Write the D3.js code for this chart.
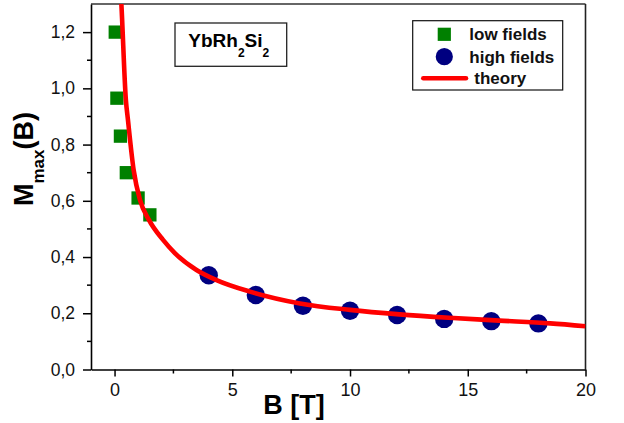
<!DOCTYPE html>
<html>
<head>
<meta charset="utf-8">
<script src="https://cdn.jsdelivr.net/npm/d3@7/dist/d3.min.js"></script>
<style>
  html, body { margin: 0; padding: 0; background: #fff; }
  svg { display: block; font-family: "Liberation Sans", Arial, sans-serif; }
</style>
</head>
<body>
<svg id="chart" width="624" height="423"></svg>
<script>
// Maximum magnetisation vs field, YbRh2Si2
const lowFieldB = [0.03, 0.1, 0.25, 0.5, 1.0, 1.5];
const lowFieldM = [1.20, 0.965, 0.83, 0.70, 0.61, 0.55];

const highFieldB = [4, 6, 8, 10, 12, 14, 16, 18];
const highFieldM = [0.335, 0.265, 0.227, 0.209, 0.194, 0.180, 0.172, 0.164];

const theoryB = [0.25, 0.29, 0.48, 0.57, 0.81, 1.08, 1.46, 2.06, 2.56, 3.48, 4.33, 5.75, 7.87, 10.0, 12.1, 14.2, 16.35, 18.5, 20.0];
const theoryM = [1.36, 1.30, 0.96, 0.887, 0.71, 0.603, 0.532, 0.461, 0.414, 0.354, 0.318, 0.277, 0.235, 0.212, 0.196, 0.184, 0.174, 0.164, 0.154];

const xTicks = [0, 5, 10, 15, 20];
const xMinorTicks = [2.5, 7.5, 12.5, 17.5];
const yTicks = [0.0, 0.2, 0.4, 0.6, 0.8, 1.0, 1.2];
const yMinorTicks = [0.1, 0.3, 0.5, 0.7, 0.9, 1.1];

const legendItems = ["low fields", "high fields", "theory"];

const svg = d3.select("#chart");
const plotLeft = 91, plotRight = 585.5, plotTop = 4, plotBottom = 369.5;

const x = d3.scaleLinear().domain([-1, 20]).range([plotLeft, plotRight]);
const y = d3.scaleLinear().domain([0, 1.3]).range([plotBottom, plotTop]);

const fmt = d => d3.format(".1f")(d).replace(".", ",");

// clip region for marks
svg.append("defs").append("clipPath").attr("id", "plotClip")
  .append("rect").attr("x", plotLeft).attr("y", plotTop)
  .attr("width", plotRight - plotLeft).attr("height", plotBottom - plotTop);

// frame: top and right lines
svg.append("line").attr("x1", plotLeft).attr("x2", plotRight).attr("y1", plotTop).attr("y2", plotTop)
  .attr("stroke", "#333").attr("stroke-width", 1.6);
svg.append("line").attr("x1", plotRight).attr("x2", plotRight).attr("y1", plotTop).attr("y2", plotBottom)
  .attr("stroke", "#222").attr("stroke-width", 1.6);

// bottom axis
const xAxis = svg.append("g").attr("transform", `translate(0,${plotBottom})`)
  .call(d3.axisBottom(x).tickValues(xTicks).tickSize(7).tickPadding(7).tickSizeOuter(0).tickFormat(d3.format("d")));
xAxis.append("g").selectAll("line").data(xMinorTicks).join("line")
  .attr("x1", d => x(d)).attr("x2", d => x(d)).attr("y1", 0).attr("y2", 4)
  .attr("stroke", "#000").attr("stroke-width", 1.5);

// left axis
const yAxis = svg.append("g").attr("transform", `translate(${plotLeft},0)`)
  .call(d3.axisLeft(y).tickValues(yTicks).tickSize(8).tickPadding(8).tickSizeOuter(0).tickFormat(fmt));
yAxis.append("g").selectAll("line").data(yMinorTicks).join("line")
  .attr("y1", d => y(d)).attr("y2", d => y(d)).attr("x1", 0).attr("x2", -4)
  .attr("stroke", "#000").attr("stroke-width", 1.5);

[xAxis, yAxis].forEach(g => {
  g.select(".domain").attr("stroke", "#000").attr("stroke-width", 1.6);
  g.selectAll(".tick line").attr("stroke", "#000").attr("stroke-width", 1.5);
  g.selectAll(".tick text").attr("fill", "#111")
    .style("font-family", "'Liberation Sans', Arial, sans-serif");
});
xAxis.selectAll(".tick text").style("font-size", "18px");
yAxis.selectAll(".tick text").style("font-size", "17.5px");

// axis titles
svg.append("text").attr("x", 294).attr("y", 414).attr("text-anchor", "middle")
  .attr("font-weight", "bold").attr("font-size", 27).attr("fill", "#000").text("B [T]");

const yl = svg.append("text").attr("transform", "translate(33,159) rotate(-90)")
  .attr("text-anchor", "middle").attr("font-weight", "bold").attr("fill", "#000");
yl.append("tspan").attr("font-size", 27).text("M");
yl.append("tspan").attr("font-size", 17).attr("dy", 11).text("max");
yl.append("tspan").attr("font-size", 27).attr("dy", -11).text("(B)");

// data marks
const marks = svg.append("g").attr("clip-path", "url(#plotClip)");
const sq = 13.3;
marks.append("g").selectAll("rect").data(lowFieldB.map((b, i) => [b, lowFieldM[i]])).join("rect")
  .attr("x", d => x(d[0]) - sq / 2).attr("y", d => y(d[1]) - sq / 2)
  .attr("width", sq).attr("height", sq).attr("fill", "#008000");

marks.append("g").selectAll("circle").data(highFieldB.map((b, i) => [b, highFieldM[i]])).join("circle")
  .attr("cx", d => x(d[0])).attr("cy", d => y(d[1])).attr("r", 9.2).attr("fill", "#000080");

const line = d3.line().x(d => x(d[0])).y(d => y(d[1])).curve(d3.curveMonotoneX);
marks.append("path").datum(theoryB.map((b, i) => [b, theoryM[i]]))
  .attr("d", line).attr("fill", "none").attr("stroke", "#ff0000").attr("stroke-width", 4.6);

// compound label box
svg.append("rect").attr("x", 175).attr("y", 23).attr("width", 111.7).attr("height", 43.3)
  .attr("fill", "#fff").attr("stroke", "#222").attr("stroke-width", 1.3);
const comp = svg.append("text").attr("x", 188.3).attr("y", 47.3)
  .attr("font-weight", "bold").attr("font-size", 19).attr("fill", "#000");
comp.append("tspan").text("YbRh");
comp.append("tspan").attr("font-size", 12).attr("dy", 10).text("2");
comp.append("tspan").attr("dy", -10).text("Si");
comp.append("tspan").attr("font-size", 12).attr("dy", 10).text("2");

// legend
const lg = svg.append("g");
lg.append("rect").attr("x", 412.7).attr("y", 20.7).attr("width", 150).attr("height", 69.3)
  .attr("fill", "#fff").attr("stroke", "#111").attr("stroke-width", 1.2);
lg.append("rect").attr("x", 444.3 - 6.6).attr("y", 34.3 - 6.6).attr("width", 13.2).attr("height", 13.2)
  .attr("fill", "#008000");
lg.append("circle").attr("cx", 444.3).attr("cy", 56.7).attr("r", 8.6).attr("fill", "#000080");
lg.append("line").attr("x1", 423.3).attr("x2", 466).attr("y1", 78.3).attr("y2", 78.3)
  .attr("stroke", "#ff0000").attr("stroke-width", 4.6).attr("stroke-linecap", "round");
const lx = [469.3, 469.3, 474.3], ly = [40, 62.7, 84];
lg.selectAll("text.leg").data(legendItems).join("text").attr("class", "leg")
  .attr("x", (d, i) => lx[i]).attr("y", (d, i) => ly[i])
  .attr("font-weight", "bold").attr("font-size", 17).attr("fill", "#111").text(d => d);
</script>
</body>
</html>
